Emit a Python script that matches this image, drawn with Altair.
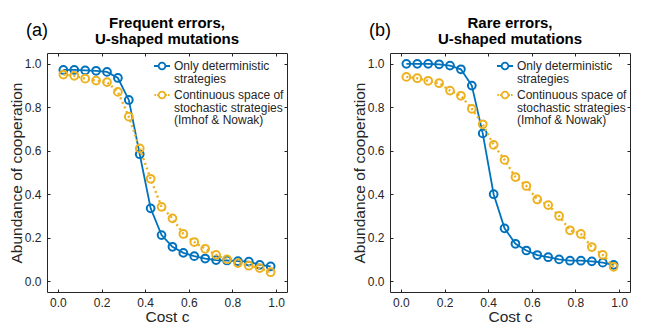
import altair as alt
import pandas as pd

# ---------------- data ----------------
cost = [0.025, 0.075, 0.125, 0.175, 0.225, 0.275, 0.325, 0.375, 0.425, 0.475,
        0.525, 0.575, 0.625, 0.675, 0.725, 0.775, 0.825, 0.875, 0.925, 0.975]

freq_det = [0.972, 0.972, 0.970, 0.968, 0.963, 0.935, 0.834, 0.584, 0.335, 0.212,
            0.158, 0.130, 0.115, 0.104, 0.097, 0.095, 0.092, 0.090, 0.075, 0.068]
freq_sto = [0.951, 0.945, 0.932, 0.923, 0.916, 0.871, 0.757, 0.611, 0.471, 0.342,
            0.289, 0.217, 0.180, 0.149, 0.121, 0.100, 0.083, 0.071, 0.060, 0.041]

rare_det = [1.000, 1.000, 1.000, 0.998, 0.992, 0.975, 0.900, 0.680, 0.400, 0.243,
            0.172, 0.141, 0.120, 0.110, 0.100, 0.094, 0.094, 0.091, 0.085, 0.075]
rare_sto = [0.940, 0.934, 0.922, 0.911, 0.877, 0.853, 0.793, 0.722, 0.627, 0.558,
            0.479, 0.438, 0.376, 0.350, 0.300, 0.234, 0.217, 0.157, 0.121, 0.066]

tick_vals = [0.0, 0.2, 0.4, 0.6, 0.8, 1.0]
S_DET = "Only deterministic|strategies"
S_STO = "Continuous space of|stochastic strategies|(Imhof & Nowak)"
series = [S_DET, S_STO]
colors = ["#0072BD", "#EDB120"]

titles = [["Frequent errors,", "U-shaped mutations"], ["Rare errors,", "U-shaped mutations"]]
tags = ["(a)", "(b)"]

# ---------------- style ----------------
FONT = "Liberation Sans"
INK = "#262626"
W, H = 240, 239
DOM = [-0.05, 1.05]

P_DET = "M-1,0L-0.42,0M0.42,0L1,0M0.42,0A0.42,0.42,0,1,1,-0.42,0A0.42,0.42,0,1,1,0.42,0"
P_STO = ("M-0.95,0L-0.75,0M-0.62,0L-0.45,0M0.45,0L0.62,0M0.75,0L0.95,0"
         "M0.42,0A0.42,0.42,0,1,1,-0.42,0A0.42,0.42,0,1,1,0.42,0")


def tick_axis(orient, offset):
    return alt.Axis(orient=orient, offset=offset, labels=False, domain=False, grid=False,
                    ticks=True, tickSize=3, tickWidth=1, tickColor=INK, values=tick_vals,
                    title=None)


def panel(det, sto, title, tag):
    df = pd.DataFrame({
        "c": cost + cost,
        "v": det + sto,
        "s": [S_DET] * len(cost) + [S_STO] * len(cost),
    })
    base = alt.Chart(df)
    xs = alt.Scale(domain=DOM, nice=False, zero=False)
    ys = alt.Scale(domain=DOM, nice=False, zero=False)
    color = alt.Color(
        "s:N",
        scale=alt.Scale(domain=series, range=colors),
        title=None,
        legend=alt.Legend(
            orient="none", legendX=106, legendY=4, title=None,
            labelExpr="split(datum.label, '|')",
            symbolType={"expr": f"datum.value === '{S_DET}' ? '{P_DET}' : '{P_STO}'"},
            symbolSize=256, symbolStrokeWidth=1.8, symbolFillColor="transparent",
            labelFont=FONT, labelFontSize=12, labelColor=INK, labelLimit=400,
            labelOffset=3, rowPadding=1,
        ),
    )

    x_main = alt.X("c:Q", scale=xs, axis=alt.Axis(
        orient="bottom", values=tick_vals, format=".1f", ticks=False, tickSize=0,
        domain=False, grid=False, labelPadding=5, title="Cost c", titlePadding=1))
    y_main = alt.Y("v:Q", scale=ys, axis=alt.Axis(
        orient="left", values=tick_vals, format=".1f", ticks=False, tickSize=0,
        domain=False, grid=False, labelPadding=6, title="Abundance of cooperation",
        titlePadding=0))

    det_line = base.transform_filter(alt.datum.s == S_DET).mark_line(
        strokeWidth=1.8).encode(x=x_main, y=y_main, color=color)
    det_pts = base.transform_filter(alt.datum.s == S_DET).mark_point(
        filled=False, size=60, strokeWidth=2, opacity=1).encode(
        x=alt.X("c:Q", scale=xs, axis=tick_axis("top", -H)),
        y=alt.Y("v:Q", scale=ys, axis=tick_axis("right", -W)),
        color=color)
    sto_line = base.transform_filter(alt.datum.s == S_STO).mark_line(
        strokeWidth=2.4, strokeDash=[2, 3]).encode(
        x=alt.X("c:Q", scale=xs, axis=tick_axis("bottom", -H)),
        y=alt.Y("v:Q", scale=ys, axis=tick_axis("left", -W)),
        color=color)
    sto_pts = base.transform_filter(alt.datum.s == S_STO).mark_point(
        filled=False, size=60, strokeWidth=2, opacity=1).encode(
        x=alt.X("c:Q", scale=xs, axis=None),
        y=alt.Y("v:Q", scale=ys, axis=None),
        color=color)
    tag_txt = alt.Chart(pd.DataFrame({"t": [tag]})).mark_text(
        font=FONT, fontSize=18, color="black", align="center", baseline="middle").encode(
        text="t:N", x=alt.value(-10), y=alt.value(-22))

    return alt.layer(det_line, det_pts, sto_line, sto_pts, tag_txt).properties(
        width=W, height=H,
        title=alt.TitleParams(title, font=FONT, fontSize=15, fontWeight="bold",
                              color="black", anchor="middle", lineHeight=16, offset=-25),
    )


pa = panel(freq_det, freq_sto, titles[0], tags[0])
pb = panel(rare_det, rare_sto, titles[1], tags[1])

chart = alt.hconcat(pa, pb, spacing=63).resolve_legend(color="independent").properties(
    padding={"left": 0, "top": 7, "right": 0, "bottom": 0}
).configure(
    style={"guide-label": {"lineHeight": 12.5}}
).configure_view(stroke=INK, strokeWidth=1).configure_axis(
    labelFont=FONT, labelFontSize=12, labelColor=INK,
    titleFont=FONT, titleFontSize=15.5, titleColor=INK, titleFontWeight="normal",
)

chart.save("out.html", embed_options={"renderer": "svg", "actions": False})
